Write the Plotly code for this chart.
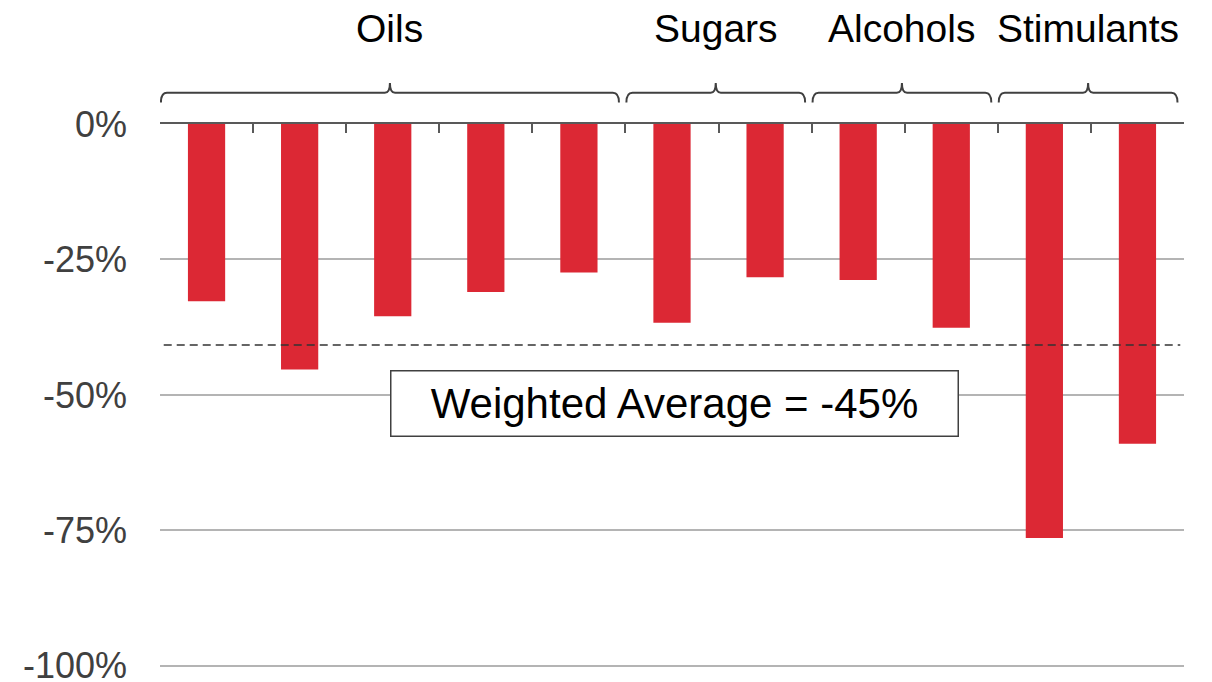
import plotly.graph_objects as go

# bar values (percent change), one per item, left to right
values = [-32.7, -45.3, -35.5, -31.0, -27.4, -36.7, -28.3, -28.8, -37.6, -76.4, -59.0]

# groups shown with braces above the bars: (label, first index, last index)
group_names = ["Oils", "Sugars", "Alcohols", "Stimulants"]
group_first = [0, 5, 7, 9]
group_last = [4, 6, 8, 10]

avg_line = -40.8
avg_label = "Weighted Average = -45%"

y_ticks = [0, -25, -50, -75, -100]
y_tick_text = ["0%", "-25%", "-50%", "-75%", "-100%"]

RED = "#DC2834"
DARK = "#595959"

x = list(range(len(values)))

fig = go.Figure()
fig.add_trace(go.Bar(x=x, y=values, width=0.4, marker=dict(color=RED, line=dict(width=0)),
                     hoverinfo="y"))


def brace_path(x0, x1, ybot, ymid, ytop, dx=0.065, dm=0.055):
    xm = (x0 + x1) / 2
    return (f"M {x0},{ybot} Q {x0},{ymid} {x0 + dx},{ymid} "
            f"L {xm - dm},{ymid} Q {xm},{ymid} {xm},{ytop} "
            f"Q {xm},{ymid} {xm + dm},{ymid} "
            f"L {x1 - dx},{ymid} Q {x1},{ymid} {x1},{ybot}")


shapes = []
annotations = []
for name, a, b in zip(group_names, group_first, group_last):
    x0 = a - 0.5 + 0.01
    x1 = b + 0.5 - 0.07
    shapes.append(dict(type="path", xref="x", yref="paper",
                       path=brace_path(x0, x1, 1.0395, 1.0574, 1.0754),
                       line=dict(color="#404040", width=2)))
    annotations.append(dict(x=(x0 + x1) / 2, y=1.176, xref="x", yref="paper", text=name,
                            showarrow=False, xanchor="center", yanchor="middle",
                            font=dict(size=39, color="black"), borderpad=0))

# weighted-average dashed line
shapes.append(dict(type="line", xref="x", yref="y", x0=-0.46, x1=10.46, y0=avg_line, y1=avg_line,
                   line=dict(color="#333333", width=1.5, dash="8px,5px"), layer="above"))

annotations.append(dict(x=5.03, y=-51.6, xref="x", yref="y", text=avg_label, showarrow=False,
                        font=dict(size=42, color="black"), bgcolor="white",
                        bordercolor="#404040", borderwidth=1.5, borderpad=1,
                        width=564, height=62, align="center", valign="middle"))

fig.update_layout(
    width=1212, height=682,
    margin=dict(l=160, r=28, t=124, b=14),
    plot_bgcolor="white", paper_bgcolor="white",
    showlegend=False,
    font=dict(family="Liberation Sans, Arial, sans-serif"),
    shapes=shapes,
    annotations=annotations,
    xaxis=dict(range=[-0.5, 10.5], side="top", showline=True, linecolor=DARK, linewidth=2,
               ticks="inside", ticklen=9, tickwidth=2, tickcolor=DARK,
               tickvals=[i - 0.5 for i in range(len(values) + 1)], showticklabels=False,
               showgrid=False, zeroline=False, fixedrange=True, automargin=False),
    yaxis=dict(range=[-100.4, 0], tickvals=y_ticks, ticktext=y_tick_text,
               tickfont=dict(size=36, color="#404040"), ticklabelstandoff=32,
               ticklabeloverflow="allow", automargin=False,
               showgrid=True, gridcolor="#B4B4B4", gridwidth=2,
               zeroline=False, showline=False, ticks="", fixedrange=True),
    bargap=0.6,
)

# drop the default page margin so the figure sits at the window's top-left corner
fig.write_html("out.html", config={"displayModeBar": False},
               post_script="document.body.style.margin='0';")
